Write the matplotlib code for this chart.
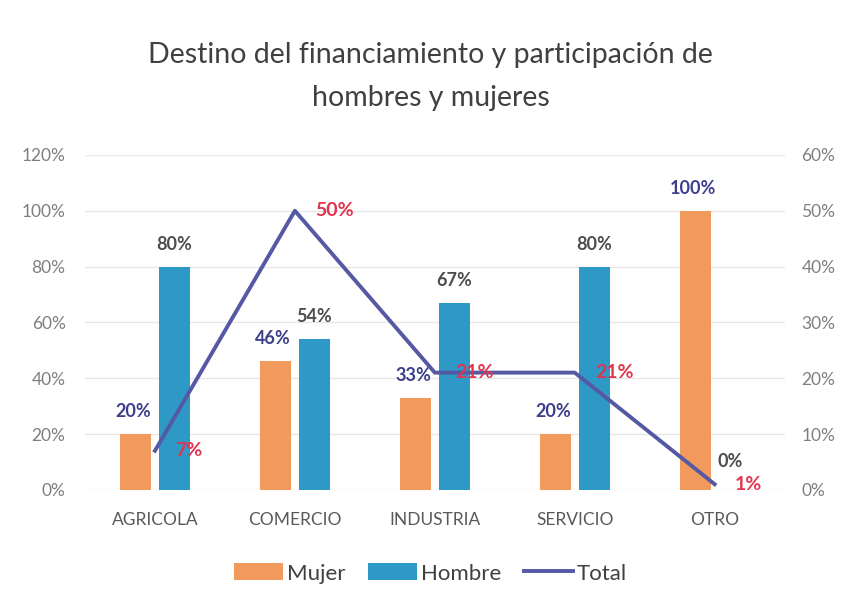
import numpy as np
import matplotlib.pyplot as plt

# data
categorias = ['AGRICOLA', 'COMERCIO', 'INDUSTRIA', 'SERVICIO', 'OTRO']
mujer = [20, 46, 33, 20, 100]
hombre = [80, 54, 67, 80, 0]
total = [7, 50, 21, 21, 1]

c_mujer = '#F29A5E'
c_hombre = '#2E98C6'
c_total = '#5558A2'
c_red = '#E2344F'

plt.rcParams['font.family'] = ['Lato', 'DejaVu Sans']

fig = plt.figure(figsize=(8.44, 6.10), dpi=100)
ax = fig.add_axes([0.1007, 0.197, 0.829, 0.549])
ax2 = ax.twinx()

x = np.arange(len(categorias))
w = 0.22
off = 0.14

ax.bar(x - off, mujer, w, color=c_mujer, label='Mujer', zorder=2)
ax.bar(x + off, hombre, w, color=c_hombre, label='Hombre', zorder=2)

ax.set_ylim(0, 120)
ax.set_xlim(-0.5, len(categorias) - 0.5)
ax.set_yticks(np.arange(0, 121, 20))
ax.set_yticklabels([f'{v}%' for v in range(0, 121, 20)])
ax.set_xticks(x)
ax.set_xticklabels(categorias)
ax.grid(axis='y', color='#E6E6E6', linewidth=1, zorder=0)
ax.set_axisbelow(True)

for a in (ax, ax2):
    for s in a.spines.values():
        s.set_visible(False)
    a.tick_params(length=0, labelsize=12.5, colors='#7F7F7F')
ax.tick_params(axis='x', labelcolor='#595959', pad=16)
ax.tick_params(axis='y', pad=14)
ax2.tick_params(axis='y', pad=12)

ax2.plot(x, total, color=c_total, linewidth=2.8, label='Total', zorder=3)
ax2.set_ylim(0, 60)
ax2.set_yticks(np.arange(0, 61, 10))
ax2.set_yticklabels([f'{v}%' for v in range(0, 61, 10)])

# data labels
for xi, v in zip(x, mujer):
    ax.annotate(f'{v}%', (xi - off, v), xytext=(-2, 14), textcoords='offset pixels',
                ha='center', va='bottom', fontsize=13, fontweight='bold', color='#3D3F8C')
for xi, v in zip(x, hombre):
    ax.annotate(f'{v}%', (xi + off, v), xytext=(-4 if v == 0 else 0, 14 if v else 20),
                textcoords='offset pixels', ha='center', va='bottom',
                fontsize=13, fontweight='bold', color='#4D4D4D')
for xi, v in zip(x, total):
    ax2.annotate(f'{v}%', (xi, v), xytext=(20, 0), textcoords='offset pixels',
                 ha='left', va='center', fontsize=14, fontweight='bold', color=c_red)

fig.text(0.51, 0.91, 'Destino del financiamiento y participación de',
         ha='center', va='center', fontsize=20.5, color='#404040')
fig.text(0.51, 0.84, 'hombres y mujeres',
         ha='center', va='center', fontsize=20.5, color='#404040')

h1, l1 = ax.get_legend_handles_labels()
h2, l2 = ax2.get_legend_handles_labels()
fig.legend(h1 + h2, l1 + l2, loc='center', bbox_to_anchor=(0.51, 0.06), ncol=3,
           frameon=False, fontsize=16, handlelength=2.2, handleheight=0.8,
           handletextpad=0.2, columnspacing=1.0, labelcolor='#404040')

fig.savefig('out.png', dpi=100)
